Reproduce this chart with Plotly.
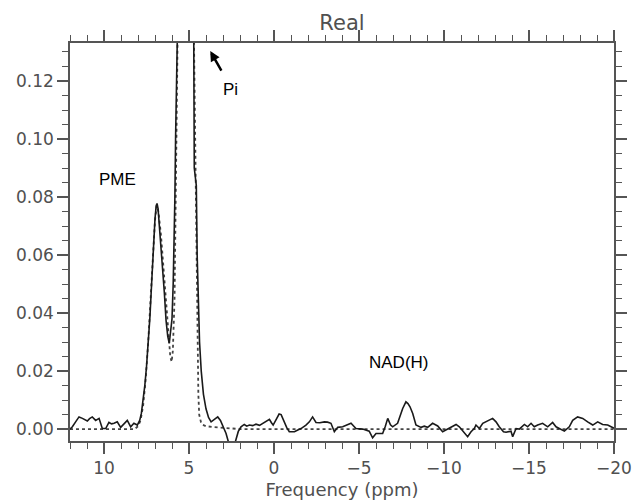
import plotly.graph_objects as go

# Measured spectrum (solid)
freq_meas = [12.0, 11.86, 11.67, 11.47, 11.27, 11.1, 10.98, 10.85, 10.69, 10.49, 10.29, 10.1, 9.9, 9.71, 9.55,
             9.41, 9.22, 9.02, 8.82, 8.63, 8.43, 8.24, 8.04, 7.9, 7.8, 7.7, 7.6, 7.5, 7.4, 7.3, 7.2, 7.1, 7.0,
             6.93, 6.88, 6.82, 6.75, 6.65, 6.55, 6.45, 6.35, 6.25, 6.16, 6.08, 6.0, 5.93, 5.88, 5.83, 5.79,
             5.73, 5.6, 5.2, 4.85, 4.72, 4.69, 4.57, 4.52, 4.46, 4.38, 4.28, 4.15, 4.0, 3.85, 3.7, 3.5, 3.31,
             3.15, 3.02, 2.82, 2.63, 2.45, 2.28, 2.1, 1.94, 1.75, 1.6, 1.45, 1.25, 1.06, 0.85, 0.66, 0.45,
             0.27, 0.15, 0.05, -0.1, -0.3, -0.42, -0.61, -0.75, -0.9, -1.2, -1.4, -1.59, -1.88, -2.08, -2.27,
             -2.47, -2.7, -2.96, -3.15, -3.35, -3.55, -3.75, -4.04, -4.3, -4.53, -4.82, -5.22, -5.6, -5.8,
             -6.0, -6.39, -6.55, -6.69, -6.85, -6.98, -7.27, -7.45, -7.57, -7.76, -7.88, -8.0, -8.16, -8.35,
             -8.65, -8.84, -9.04, -9.33, -9.63, -9.92, -10.12, -10.41, -10.71, -10.9, -11.2, -11.39, -11.59,
             -11.78, -11.88, -12.08, -12.28, -12.57, -12.86, -13.06, -13.25, -13.5, -13.65, -13.94, -14.04,
             -14.24, -14.43, -14.73, -14.92, -15.12, -15.31, -15.51, -15.8, -16.1, -16.39, -16.59, -16.78,
             -17.08, -17.37, -17.57, -17.86, -18.16, -18.45, -18.75, -19.04, -19.33, -19.63, -19.92, -20.0]
amp_meas = [0.0, 0.0008, 0.0025, 0.0042, 0.0037, 0.0030, 0.0028, 0.0036, 0.0042, 0.0030, 0.0037, 0.0002, 0.0002,
            0.0023, 0.0018, 0.0020, 0.0025, 0.0006, 0.0020, 0.0030, 0.0008, 0.0020, 0.0014, 0.0030, 0.0055,
            0.0095, 0.0150, 0.0215, 0.0290, 0.0385, 0.0500, 0.0625, 0.0725, 0.0770, 0.0778, 0.0760, 0.0710,
            0.0635, 0.0560, 0.0470, 0.0375, 0.0320, 0.0296, 0.0330, 0.0380, 0.0500, 0.0620, 0.0800, 0.1000,
            0.1340, 0.2000, 0.3000, 0.2000, 0.1340, 0.0900, 0.0840, 0.0600, 0.0420, 0.0300, 0.0200, 0.0120,
            0.0070, 0.0040, 0.0025, 0.0033, 0.0042, 0.0030, 0.0014, -0.0015, -0.0055, -0.0070, -0.0045,
            -0.0008, 0.0008, 0.0016, 0.0010, 0.0014, 0.0012, 0.0017, 0.0013, 0.0020, 0.0026, 0.0034, 0.0022,
            0.0014, 0.0030, 0.0052, 0.0050, 0.0020, 0.0005, -0.0009, -0.0009, -0.0003, 0.0002, 0.0014, 0.0025,
            0.0042, 0.0023, 0.0022, 0.0025, 0.0024, 0.0020, -0.0009, 0.0006, 0.0008, 0.0015, 0.0020, 0.0002,
            0.0000, -0.0007, -0.0030, -0.0015, -0.0015, 0.0010, 0.0037, 0.0015, 0.0008, 0.0020, 0.0050, 0.0071,
            0.0094, 0.0088, 0.0077, 0.0054, 0.0014, 0.0006, 0.0010, 0.0006, 0.0020, 0.0011, -0.0009, -0.0003,
            0.0008, 0.0016, 0.0008, -0.0015, -0.0026, -0.0009, 0.0002, 0.0014, 0.0002, 0.0020, 0.0028, 0.0037,
            0.0025, 0.0008, -0.0009, -0.0011, -0.0007, -0.0026, 0.0002, 0.0000, 0.0016, 0.0008, 0.0020, 0.0008,
            0.0014, 0.0020, 0.0008, 0.0023, 0.0008, 0.0002, -0.0007, 0.0008, 0.0030, 0.0042, 0.0037, 0.0025,
            0.0014, 0.0025, 0.0016, 0.0014, 0.0004, 0.0003]

# Fitted model (dotted)
freq_fit = [12.0, 8.2, 8.0, 7.85, 7.7, 7.55, 7.4, 7.25, 7.1, 7.0, 6.9, 6.8, 6.65, 6.5, 6.35, 6.2, 6.1, 6.02,
            5.95, 5.85, 5.75, 5.67, 5.5, 5.2, 4.9, 4.72, 4.62, 4.55, 4.5, 4.45, 4.4, 4.3, 4.2, 4.0, 3.5, 3.0,
            2.0, -20.0]
amp_fit = [0.0, 0.0, 0.001, 0.003, 0.008, 0.017, 0.030, 0.045, 0.063, 0.072, 0.077, 0.075, 0.067, 0.055,
           0.042, 0.030, 0.025, 0.0232, 0.027, 0.045, 0.090, 0.140, 0.220, 0.300, 0.220, 0.140, 0.090, 0.060,
           0.030, 0.012, 0.005, 0.0025, 0.0015, 0.0010, 0.0007, 0.0005, 0.0, 0.0]

labels = ["PME", "Pi", "NAD(H)"]
label_x = [9.18, 2.56, -7.35]
label_y = [0.0862, 0.1169, 0.0229]

AX = "#555555"
TICKFONT = dict(family="DejaVu Sans", size=17, color="#505050")

fig = go.Figure()
fig.add_trace(go.Scatter(x=freq_fit, y=amp_fit, mode="lines",
                         line=dict(color="#444444", width=1.8, dash="dot"), hoverinfo="skip"))
fig.add_trace(go.Scatter(x=freq_meas, y=amp_meas, mode="lines",
                         line=dict(color="#1a1a1a", width=1.6)))

for t, x, y in zip(labels, label_x, label_y):
    fig.add_annotation(x=x, y=y, text=t, showarrow=False,
                       font=dict(family="Liberation Sans, Arial", size=17, color="black"))

fig.add_annotation(x=3.75, y=0.1303, ax=12, ay=21, text="", showarrow=True,
                   arrowhead=2, arrowsize=0.8, arrowwidth=2.5, arrowcolor="black")

axis_common = dict(showline=True, linecolor=AX, linewidth=1.5, mirror="allticks",
                   ticks="outside", ticklen=11, tickwidth=1.5, tickcolor=AX,
                   showgrid=False, zeroline=False, tickfont=TICKFONT, automargin=False)

fig.update_xaxes(range=[12, -20], dtick=5, tick0=0,
                 minor=dict(dtick=1, ticklen=6, tickwidth=1.2, tickcolor=AX, ticks="outside", showgrid=False),
                 title=dict(text="Frequency (ppm)", font=dict(family="DejaVu Sans", size=18, color="#505050"),
                            standoff=6),
                 **axis_common)
fig.update_yaxes(range=[-0.0041, 0.1331], dtick=0.02, tick0=0, tickformat=".2f",
                 minor=dict(dtick=0.005, ticklen=6, tickwidth=1.2, tickcolor=AX, ticks="outside", showgrid=False),
                 **axis_common)

fig.update_layout(
    width=633, height=503,
    margin=dict(l=70, r=19, t=43, b=62),
    paper_bgcolor="white", plot_bgcolor="white",
    showlegend=False,
    title=dict(text="Real", x=0.5, xref="paper", xanchor="center",
               y=1 - 23 / 503, yref="container", yanchor="middle",
               font=dict(family="DejaVu Sans", size=21, color="#505050")),
)

fig.write_html("out.html", config={"displayModeBar": False},
               post_script="document.body.style.margin='0px';document.body.style.overflow='hidden';")
